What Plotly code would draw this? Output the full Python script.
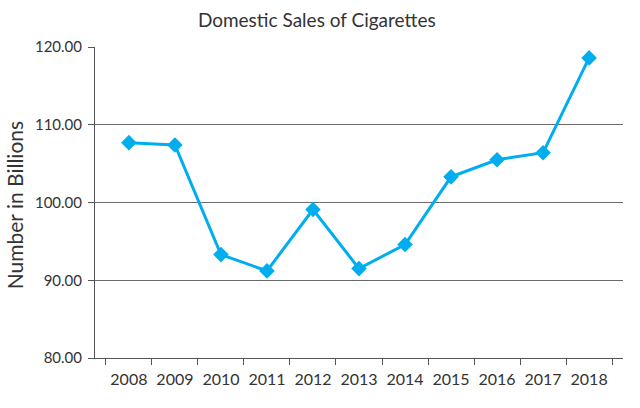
import plotly.graph_objects as go

years = ["2008", "2009", "2010", "2011", "2012", "2013",
         "2014", "2015", "2016", "2017", "2018"]
sales = [107.7, 107.4, 93.3, 91.2, 99.1, 91.5, 94.6, 103.3, 105.5, 106.4, 118.6]

y_ticks = [80, 90, 100, 110, 120]
y_labels = ["80.00", "90.00", "100.00", "110.00", "120.00"]

_LINE = "#00aeef"
_TXT = "#333333"
_FONT = "Lato"

fig = go.Figure()
fig.add_trace(go.Scatter(
    x=years, y=sales, mode="lines+markers",
    line=dict(color=_LINE, width=3),
    marker=dict(symbol="diamond", size=12, color=_LINE),
    showlegend=False,
))

fig.update_layout(
    width=640, height=408,
    paper_bgcolor="white", plot_bgcolor="white",
    margin=dict(l=95, r=17, t=47, b=50, autoexpand=False),
    font=dict(family=_FONT, color=_TXT, size=15),
    title=dict(text="Domestic Sales of Cigarettes", x=0.495, xanchor="center",
               y=0.95, yanchor="middle", font=dict(size=19, color=_TXT)),
    xaxis=dict(
        type="category", tickson="boundaries", automargin=False,
        tickangle=0, ticklabelstandoff=7,
        ticks="outside", ticklen=6, tickcolor="#555555",
        showline=True, linecolor="#555555", linewidth=1,
        showgrid=False, tickfont=dict(size=16, color=_TXT),
    ),
    yaxis=dict(
        range=[80, 120], tickvals=y_ticks, ticktext=y_labels,
        automargin=False, ticklabelstandoff=3,
        ticks="outside", ticklen=6, tickcolor="#555555",
        showline=True, linecolor="#555555", linewidth=1,
        showgrid=True, gridcolor="#6a6a6a", gridwidth=1,
        zeroline=False, tickfont=dict(size=15, color=_TXT),
    ),
    annotations=[dict(
        text="Number in Billions", textangle=-90,
        xref="paper", yref="paper", x=-0.152, y=0.49,
        xanchor="center", yanchor="middle", showarrow=False,
        font=dict(size=21, color=_TXT),
    )],
)

fig.write_html("out.html", config={"displayModeBar": False},
               post_script="document.body.style.margin='0';")
